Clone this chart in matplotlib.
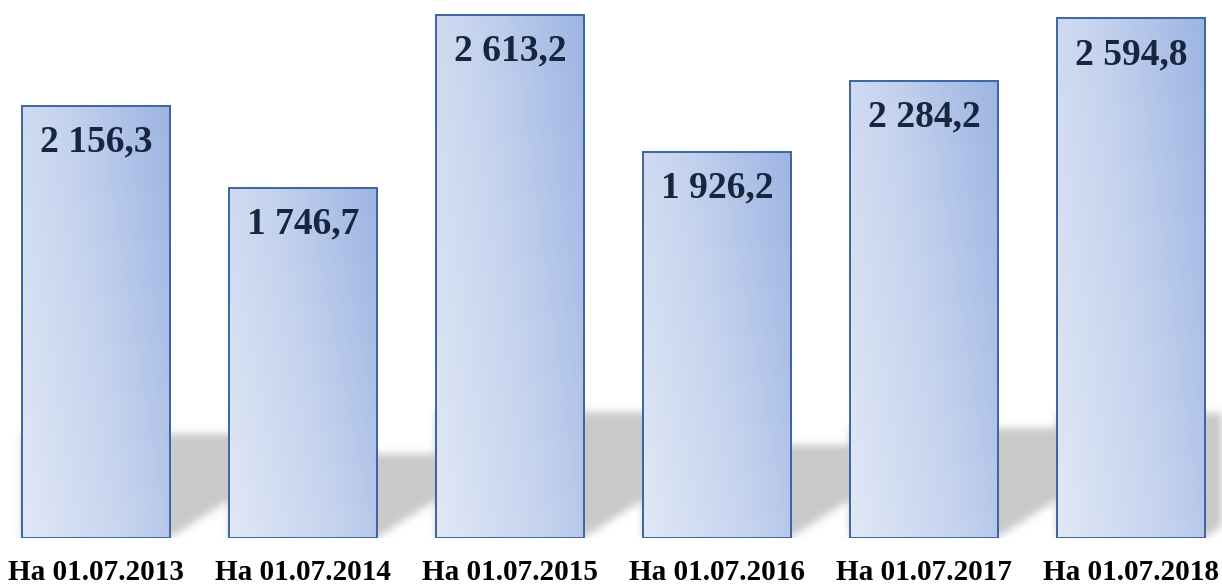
import numpy as np
import matplotlib
matplotlib.use("Agg")
import matplotlib.pyplot as plt
from matplotlib.path import Path
from matplotlib.colors import LinearSegmentedColormap

categories = ["На 01.07.2013", "На 01.07.2014", "На 01.07.2015",
              "На 01.07.2016", "На 01.07.2017", "На 01.07.2018"]
values = [2156.3, 1746.7, 2613.2, 1926.2, 2284.2, 2594.8]
value_labels = ["2 156,3", "1 746,7", "2 613,2", "1 926,2", "2 284,2", "2 594,8"]

W, H = 1222, 587
fig = plt.figure(figsize=(W / 100, H / 100), dpi=100)
bottom_frac = (H - 538) / H
ax = fig.add_axes([0, bottom_frac, 1, 1 - bottom_frac])
x = np.arange(len(values))
xlim = (-96 / 207, (W - 96) / 207)
ylim = (0, 2687)
ax.set_xlim(*xlim)
ax.set_ylim(*ylim)
for s in ax.spines.values():
    s.set_visible(False)
ax.set_yticks([])

bar_w = 0.715

# --- blurred shadows ---
nx, ny = W, 538
xs = np.linspace(xlim[0], xlim[1], nx)
ys = np.linspace(ylim[0], ylim[1], ny)
XX, YY = np.meshgrid(xs, ys)
pts = np.column_stack([XX.ravel(), YY.ravel()])
mask = np.zeros(nx * ny)
px_x = nx / (xlim[1] - xlim[0])
px_y = ny / (ylim[1] - ylim[0])
for xi, v in zip(x, values):
    xl, xr = xi - bar_w / 2, xi + bar_w / 2
    t_px = 0.24 * v * px_y
    t = t_px / px_y
    s = 1.56 * t_px / px_x
    poly = Path([(xl, 0), (xr, 0), (xr + s, t), (xl, t), (xl, 0)])
    mask = np.maximum(mask, poly.contains_points(pts).astype(float))
mask = mask.reshape(ny, nx)
sig = 4.0
k = np.arange(-12, 13)
g = np.exp(-k ** 2 / (2 * sig ** 2)); g /= g.sum()
mask = np.apply_along_axis(lambda r: np.convolve(r, g, mode="same"), 1, mask)
mask = np.apply_along_axis(lambda c: np.convolve(c, g, mode="same"), 0, mask)
shadow = np.ones((ny, nx, 4))
shadow[..., :3] = 0.79
shadow[..., 3] = mask
ax.imshow(shadow, extent=[xlim[0], xlim[1], ylim[0], ylim[1]], origin="lower",
          aspect="auto", zorder=1, interpolation="bilinear")

# --- bars with gradient ---
cmap = LinearSegmentedColormap.from_list("g", ["#e1e8f6", "#c5d3ee", "#9db5e3"])
bars = ax.bar(x, values, width=bar_w, facecolor="none", edgecolor="#3d64a0",
              linewidth=1.4, zorder=3)
u = np.linspace(0, 1, 100)
U, V = np.meshgrid(u, u)
grad = 0.68 * U + 0.32 * V
for b in bars:
    xl = b.get_x(); w = b.get_width(); h = b.get_height()
    im = ax.imshow(grad, extent=[xl, xl + w, 0, h], origin="lower", cmap=cmap,
                   vmin=0, vmax=1, aspect="auto", zorder=2, interpolation="bilinear")
    im.set_clip_path(b)

for xi, v, lab in zip(x, values, value_labels):
    ax.annotate(lab, (xi, v), xytext=(0, -26), textcoords="offset points",
                ha="center", va="center", fontsize=27, fontweight="bold",
                family="Liberation Serif", color="#17263f", zorder=5)

ax.set_xticks(x)
ax.set_xticklabels(categories, fontsize=21, fontweight="bold", family="Liberation Serif",
                   color="black")
ax.tick_params(axis="x", length=0, pad=15)

fig.savefig("out.png", dpi=100)
